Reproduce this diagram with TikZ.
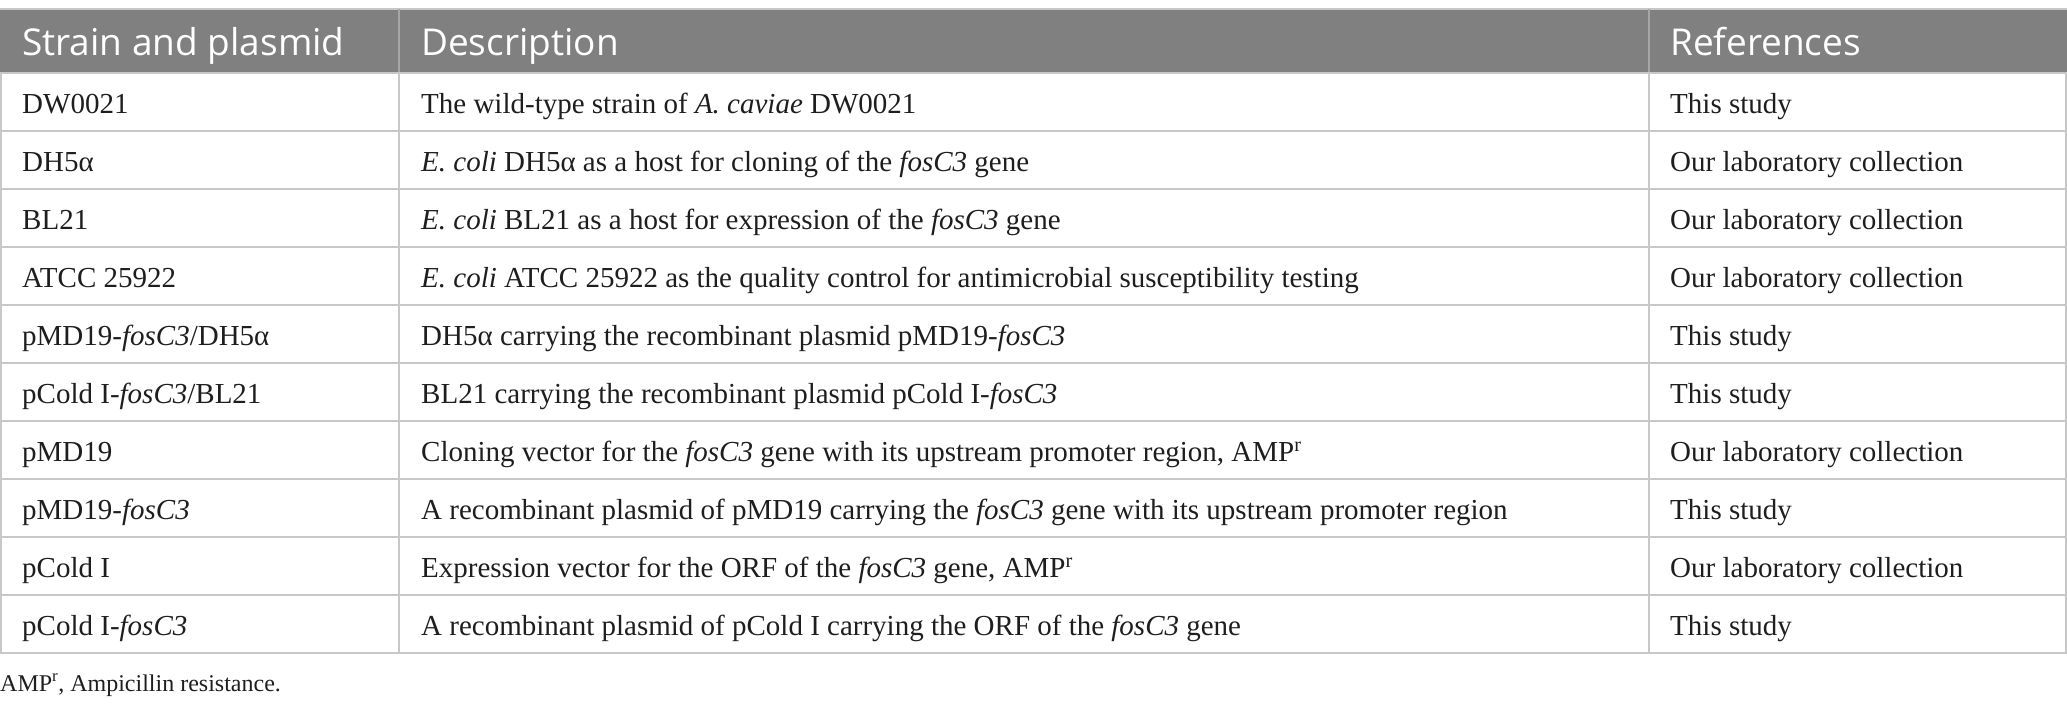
\documentclass[tikz,border=0pt]{standalone}
\usepackage{fontspec}
\setmainfont{Liberation Serif}
\newfontfamily\headfont{Open Sans}
\definecolor{headgray}{RGB}{128,128,128}
\definecolor{headrule}{RGB}{166,166,166}
\definecolor{rulegray}{RGB}{200,200,200}
\definecolor{textblack}{RGB}{30,30,30}
\tikzset{
  headtext/.style={anchor=base west, inner sep=0pt, text=white, font=\headfont\fontsize{37}{42}\selectfont},
  celltext/.style={anchor=base west, inner sep=0pt, text=textblack, font=\fontsize{29}{32}\selectfont},
  notetext/.style={anchor=base west, inner sep=0pt, text=textblack, font=\fontsize{24}{28}\selectfont},
  gridline/.style={draw=rulegray, line width=1.5pt},
  headline/.style={draw=headrule, line width=1.5pt}
}
\begin{document}
\begin{tikzpicture}[x=1pt,y=-1pt]
        \useasboundingbox (0,0) rectangle (2067,710);
        \fill [headgray] (0,9) rectangle (2067,73);
        \draw [gridline] (0,9) -- (2067,9);
        \draw [headline] (399,9) -- (399,73);
        \draw [headline] (1649,9) -- (1649,73);

        \draw [gridline] (0,73) -- (2067,73);
        \draw [gridline] (0,131) -- (2067,131);
        \draw [gridline] (0,189) -- (2067,189);
        \draw [gridline] (0,247) -- (2067,247);
        \draw [gridline] (0,305) -- (2067,305);
        \draw [gridline] (0,363) -- (2067,363);
        \draw [gridline] (0,421) -- (2067,421);
        \draw [gridline] (0,479) -- (2067,479);
        \draw [gridline] (0,537) -- (2067,537);
        \draw [gridline] (0,595) -- (2067,595);
        \draw [gridline] (0,653) -- (2067,653);
        \draw [gridline] (1,73) -- (1,653);
        \draw [gridline] (399,73) -- (399,653);
        \draw [gridline] (1649,73) -- (1649,653);
        \draw [gridline] (2066,73) -- (2066,653);

        \node [headtext] (hstrain) at (22,55) {Strain and plasmid};
        \node [headtext] (hdesc) at (421,55) {Description};
        \node [headtext] (href) at (1670,55) {References};

        \node [celltext] (s1) at (22,113) {DW0021};
        \node [celltext] (d1) at (421,113) {The wild-type strain of \textit{A. caviae} DW0021};
        \node [celltext] (r1) at (1670,113) {This study};

        \node [celltext] (s2) at (22,171) {DH5α};
        \node [celltext] (d2) at (421,171) {\textit{E. coli} DH5α as a host for cloning of the \textit{fosC3} gene};
        \node [celltext] (r2) at (1670,171) {Our laboratory collection};

        \node [celltext] (s3) at (22,229) {BL21};
        \node [celltext] (d3) at (421,229) {\textit{E. coli} BL21 as a host for expression of the \textit{fosC3} gene};
        \node [celltext] (r3) at (1670,229) {Our laboratory collection};

        \node [celltext] (s4) at (22,287) {ATCC 25922};
        \node [celltext] (d4) at (421,287) {\textit{E. coli} ATCC 25922 as the quality control for antimicrobial susceptibility testing};
        \node [celltext] (r4) at (1670,287) {Our laboratory collection};

        \node [celltext] (s5) at (22,345) {pMD19-\textit{fosC3}/DH5α};
        \node [celltext] (d5) at (421,345) {DH5α carrying the recombinant plasmid pMD19-\textit{fosC3}};
        \node [celltext] (r5) at (1670,345) {This study};

        \node [celltext] (s6) at (22,403) {pCold I-\textit{fosC3}/BL21};
        \node [celltext] (d6) at (421,403) {BL21 carrying the recombinant plasmid pCold I-\textit{fosC3}};
        \node [celltext] (r6) at (1670,403) {This study};

        \node [celltext] (s7) at (22,461) {pMD19};
        \node [celltext] (d7) at (421,461) {Cloning vector for the \textit{fosC3} gene with its upstream promoter region, AMP\textsuperscript{r}};
        \node [celltext] (r7) at (1670,461) {Our laboratory collection};

        \node [celltext] (s8) at (22,519) {pMD19-\textit{fosC3}};
        \node [celltext] (d8) at (421,519) {A recombinant plasmid of pMD19 carrying the \textit{fosC3} gene with its upstream promoter region};
        \node [celltext] (r8) at (1670,519) {This study};

        \node [celltext] (s9) at (22,577) {pCold I};
        \node [celltext] (d9) at (421,577) {Expression vector for the ORF of the \textit{fosC3} gene, AMP\textsuperscript{r}};
        \node [celltext] (r9) at (1670,577) {Our laboratory collection};

        \node [celltext] (s10) at (22,635) {pCold I-\textit{fosC3}};
        \node [celltext] (d10) at (421,635) {A recombinant plasmid of pCold I carrying the ORF of the \textit{fosC3} gene};
        \node [celltext] (r10) at (1670,635) {This study};

        \node [notetext] (note) at (0,691) {AMP\textsuperscript{r}, Ampicillin resistance.};
\end{tikzpicture}
\end{document}
